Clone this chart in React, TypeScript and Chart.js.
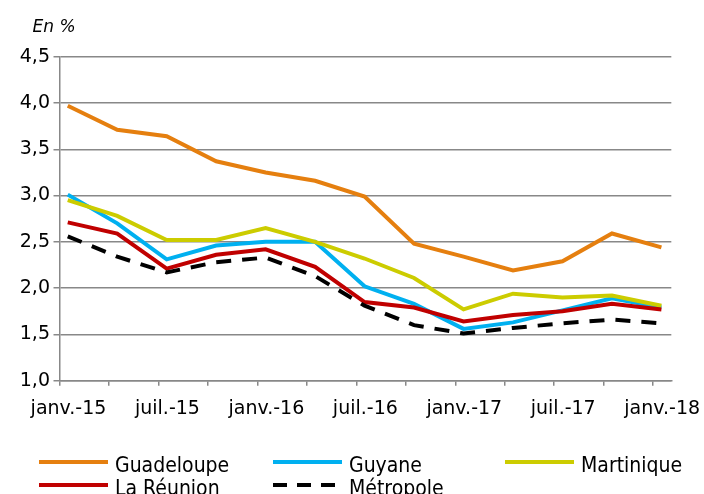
import React, { useEffect, useRef } from 'react';
import { Chart, registerables } from 'chart.js';

Chart.register(...registerables);

// Quarterly observations
const periods = [
  '2015-01', '2015-04', '2015-07', '2015-10',
  '2016-01', '2016-04', '2016-07', '2016-10',
  '2017-01', '2017-04', '2017-07', '2017-10',
  '2018-01',
];
const tickLabels = ['janv.-15', 'juil.-15', 'janv.-16', 'juil.-16', 'janv.-17', 'juil.-17', 'janv.-18'];

const guadeloupe = [3.97, 3.71, 3.64, 3.37, 3.25, 3.16, 2.99, 2.48, 2.34, 2.19, 2.29, 2.59, 2.44];
const guyane = [3.01, 2.70, 2.31, 2.46, 2.50, 2.50, 2.02, 1.83, 1.56, 1.63, 1.76, 1.89, 1.79];
const martinique = [2.95, 2.78, 2.52, 2.52, 2.65, 2.50, 2.32, 2.11, 1.77, 1.94, 1.90, 1.92, 1.81];
const laReunion = [2.71, 2.59, 2.21, 2.36, 2.42, 2.23, 1.85, 1.79, 1.64, 1.71, 1.75, 1.83, 1.77];
const metropole = [2.56, 2.34, 2.17, 2.28, 2.33, 2.13, 1.81, 1.60, 1.51, 1.57, 1.62, 1.66, 1.62];

const seriesNames = ['Guadeloupe', 'Guyane', 'Martinique', 'La Réunion', 'Métropole'];
const seriesColors = ['#E57F0F', '#00B0F0', '#CCCC00', '#C00000', '#000000'];
const yTicks = { min: 1, max: 4.5, step: 0.5 };
const unitLabel = 'En %';

const TICK_FONT = { family: '"DejaVu Sans", Verdana, sans-serif', size: 19 };
const GRID = '#888888';

export default function App() {
  const ref = useRef<HTMLCanvasElement>(null);

  useEffect(() => {
    if (!ref.current) return;
    const months = periods.map((p) => {
      const [y, m] = p.split('-').map(Number);
      return (y - 2015) * 12 + (m - 1) + 0.5; // mid-month
    });
    const mk = (vals: number[]) => vals.map((v, i) => ({ x: months[i], y: v }));
    const all = [guadeloupe, guyane, martinique, laReunion, metropole];
    const n = all.length;
    const datasets = all.map((vals, i) => ({
      label: seriesNames[i],
      data: mk(vals),
      borderColor: seriesColors[i],
      backgroundColor: seriesColors[i],
      borderWidth: 4,
      borderDash: i === 4 ? [15, 11] : [],
      pointRadius: 0,
      tension: 0,
      fill: false,
      order: n - i,
    }));

    const legendPlugin = {
      id: 'gridLegend',
      afterDraw(chart: any) {
        const ctx = chart.ctx;
        const cols = [39, 273, 505];
        const rows = [462, 485];
        const lineLen = 69;
        ctx.save();
        chart.data.datasets.forEach((ds: any, i: number) => {
          const c = i % 3;
          const r = Math.floor(i / 3);
          const x = cols[c];
          const y = rows[r];
          ctx.beginPath();
          ctx.strokeStyle = ds.borderColor;
          ctx.lineWidth = 4;
          ctx.lineCap = 'butt';
          ctx.setLineDash(ds.borderDash && ds.borderDash.length ? [14, 10] : []);
          ctx.moveTo(x, y);
          ctx.lineTo(x + lineLen, y);
          ctx.stroke();
          ctx.setLineDash([]);
          ctx.fillStyle = '#000';
          ctx.font = '21px "DejaVu Sans Condensed", "DejaVu Sans", sans-serif';
          ctx.textAlign = 'left';
          ctx.textBaseline = 'alphabetic';
          ctx.fillText(ds.label, x + lineLen + 7, y + 9.5);
        });
        ctx.restore();
      },
    };

    const unitPlugin = {
      id: 'unitLabel',
      afterDraw(chart: any) {
        const ctx = chart.ctx;
        ctx.save();
        ctx.fillStyle = '#000';
        ctx.font = 'italic 17px "DejaVu Sans", Verdana, sans-serif';
        ctx.textAlign = 'left';
        ctx.textBaseline = 'alphabetic';
        ctx.fillText(unitLabel, chart.chartArea.left - 27, chart.chartArea.top - 24.5);
        ctx.restore();
      },
    };

    const chart = new Chart(ref.current, {
      type: 'line',
      data: { datasets },
      options: {
        responsive: false,
        animation: false,
        events: [],
        layout: { padding: { left: 0, top: 56.7, right: 31, bottom: 68.3 } },
        plugins: {
          legend: { display: false },
          tooltip: { enabled: false },
          title: { display: false },
        },
        scales: {
          x: {
            type: 'linear',
            min: 0,
            max: 37.1,
            afterFit: (s: any) => { s.height = 45; },
            ticks: {
              stepSize: 3,
              includeBounds: false,
              autoSkip: false,
              maxRotation: 0,
              minRotation: 0,
              labelOffset: 9,
              padding: 12,
              color: '#000',
              font: TICK_FONT,
              callback: (value: any) => {
                const v = Number(value);
                return v % 6 === 0 ? (tickLabels[v / 6] ?? '') : '';
              },
            },
            grid: {
              display: true,
              drawOnChartArea: false,
              drawTicks: true,
              tickLength: 5,
              color: GRID,
              lineWidth: 1.5,
            },
            border: { display: true, color: GRID, width: 1.5 },
          },
          y: {
            type: 'linear',
            min: yTicks.min,
            max: yTicks.max,
            afterFit: (s: any) => { s.width = 59.5; },
            ticks: {
              stepSize: yTicks.step,
              padding: 3.5,
              color: '#000',
              font: TICK_FONT,
              callback: (value: any) => Number(value).toFixed(1).replace('.', ','),
            },
            grid: {
              display: true,
              drawTicks: true,
              tickLength: 6,
              color: GRID,
              lineWidth: 1.5,
            },
            border: { display: true, color: GRID, width: 1.5 },
          },
        },
      },
      plugins: [legendPlugin, unitPlugin],
    } as any);

    return () => chart.destroy();
  }, []);

  return (
    <div style={{ position: 'fixed', left: 0, top: 0, width: 704, height: 494, background: '#fff' }}>
      <canvas ref={ref} width={704} height={494} style={{ display: 'block' }} />
    </div>
  );
}
